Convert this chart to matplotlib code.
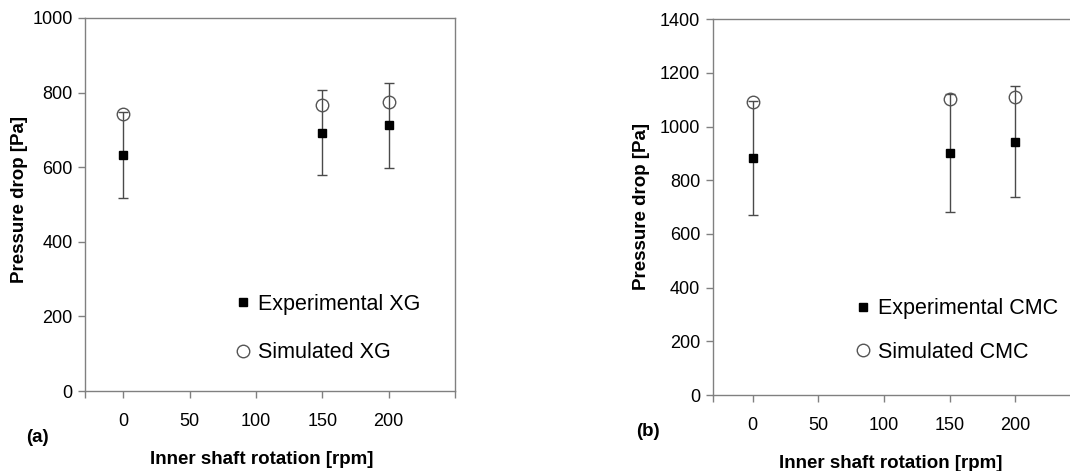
import matplotlib
matplotlib.use("Agg")
import matplotlib.pyplot as plt
from matplotlib.ticker import FixedLocator

plt.rcParams['font.family'] = ['Liberation Sans', 'DejaVu Sans']

# ---- data ----
rpm = [0, 150, 200]
xg_exp = [633, 693, 712]
xg_exp_err = [116, 114, 113]
xg_sim = [742, 767, 776]

cmc_exp = [882, 903, 944]
cmc_exp_err = [213, 220, 207]
cmc_sim = [1091, 1103, 1112]

x_ticks = [0, 50, 100, 150, 200]
xg_yticks = [0, 200, 400, 600, 800, 1000]
cmc_yticks = [0, 200, 400, 600, 800, 1000, 1200, 1400]

W, H = 1070, 471
fig = plt.figure(figsize=(W / 100, H / 100), dpi=100)
fig.patch.set_facecolor('white')

SPINE = '#808080'
ERR = '#4a4a4a'
TICK_FS = 13
LAB_FS = 13.5
LEG_FS = 15.5


def px_rect(l, t, r, b):
    return [l / W, 1 - b / H, (r - l) / W, (b - t) / H]


def make_panel(rect, exp, err, sim, yticks, ymax, xlim, lab_exp, lab_sim,
               leg_anchor, leg_spacing):
    ax = fig.add_axes(rect)
    ax.errorbar(rpm, exp, yerr=err, fmt='none', ecolor=ERR, elinewidth=1.0,
                capsize=3.5, capthick=1.0, zorder=2)
    h1, = ax.plot(rpm, exp, linestyle='none', marker='s', markersize=6.3,
                  color='black', label=lab_exp, zorder=3)
    h2, = ax.plot(rpm, sim, linestyle='none', marker='o', markersize=9,
                  markerfacecolor='none', markeredgecolor='#555555',
                  markeredgewidth=1.0, label=lab_sim, zorder=3)
    ax.set_xlim(*xlim)
    ax.set_ylim(0, ymax)
    ax.set_xticks(x_ticks)
    ax.xaxis.set_minor_locator(FixedLocator(list(xlim)))
    ax.set_yticks(yticks)
    for s in ax.spines.values():
        s.set_color(SPINE)
        s.set_linewidth(1.0)
    ax.tick_params(axis='both', which='both', direction='out', length=5,
                   width=1.0, color=SPINE, labelsize=TICK_FS, labelcolor='black')
    ax.tick_params(axis='x', which='major', pad=11)
    ax.tick_params(axis='y', pad=4)
    ax.tick_params(axis='x', which='minor', length=5)
    ax.legend(handles=[h1, h2], loc='center left',
              bbox_to_anchor=(leg_anchor[0] / W, 1 - leg_anchor[1] / H),
              bbox_transform=fig.transFigure, frameon=False,
              fontsize=LEG_FS, numpoints=1, handlelength=0.5,
              handletextpad=0.45, labelspacing=leg_spacing, borderpad=0,
              borderaxespad=0)
    return ax


ax1 = make_panel(px_rect(85, 18, 455, 391), xg_exp, xg_exp_err, xg_sim,
                 xg_yticks, 1000, (-29, 250), 'Experimental XG', 'Simulated XG',
                 (237.5, 328.5), 1.3)
ax2 = make_panel(px_rect(712.7, 19.3, 1080.7, 395), cmc_exp, cmc_exp_err, cmc_sim,
                 cmc_yticks, 1400, (-30.5, 250), 'Experimental CMC', 'Simulated CMC',
                 (857.5, 330.5), 1.05)

# axis labels
fig.text(20 / W, 1 - 199.5 / H, 'Pressure drop [Pa]', rotation=90, fontsize=LAB_FS,
         fontweight='bold', ha='center', va='center')
fig.text(641.7 / W, 1 - 207 / H, 'Pressure drop [Pa]', rotation=90, fontsize=LAB_FS,
         fontweight='bold', ha='center', va='center')
fig.text(262 / W, 1 - 460 / H, 'Inner shaft rotation [rpm]', fontsize=LAB_FS,
         fontweight='bold', ha='center', va='center')
fig.text(891 / W, 1 - 463 / H, 'Inner shaft rotation [rpm]', fontsize=LAB_FS,
         fontweight='bold', ha='center', va='center')
fig.text(37 / W, 1 - 438 / H, '(a)', fontsize=LAB_FS, fontweight='bold',
         ha='center', va='center')
fig.text(648 / W, 1 - 432 / H, '(b)', fontsize=LAB_FS, fontweight='bold',
         ha='center', va='center')

fig.savefig('out.png', dpi=100, facecolor='white')
